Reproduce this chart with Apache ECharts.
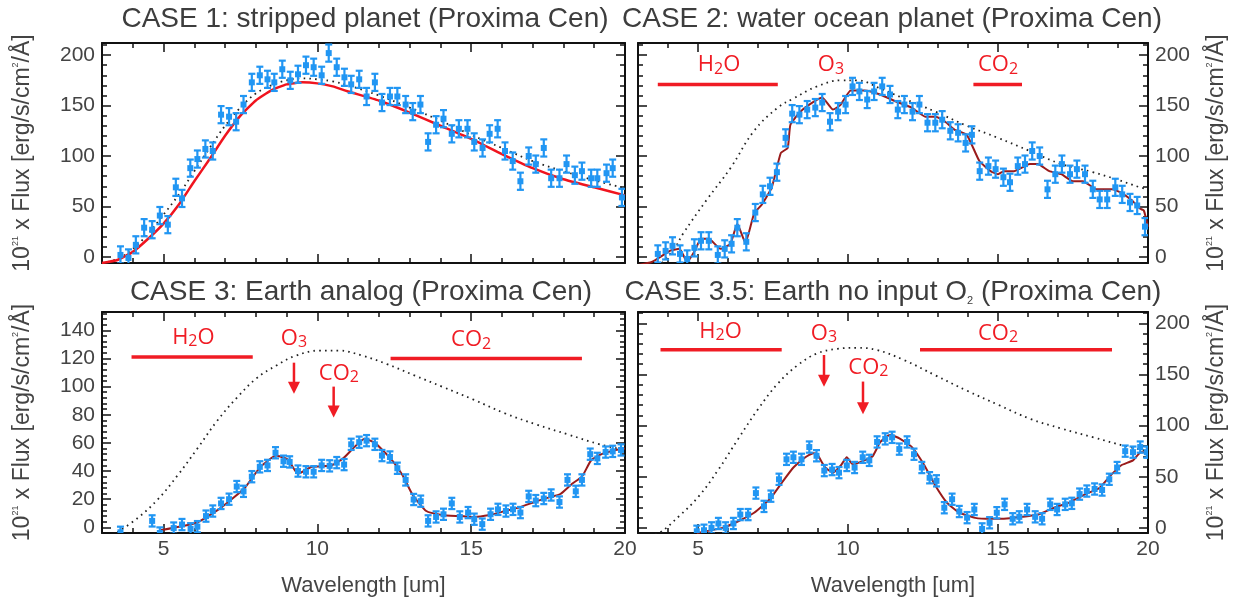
<!DOCTYPE html>
<html>
<head>
<meta charset="utf-8">
<script src="https://cdn.jsdelivr.net/npm/echarts@6/dist/echarts.min.js"></script>
<style>
html,body{margin:0;padding:0;background:#fff;}
#main{width:1238px;height:607px;}
</style>
</head>
<body>
<div id="main"></div>
<script>
// ---- data (wavelength um, 1e21 x flux) ----
// CASE 1
var w1 = [3.6,3.86,4.1,4.37,4.63,4.88,5.14,5.4,5.6,5.87,6.1,6.36,6.6,6.87,7.13,7.36,7.6,7.87,8.13,8.38,8.6,8.86,9.12,9.37,9.63,9.88,10.14,10.37,10.63,10.88,11.1,11.36,11.6,11.87,12.1,12.36,12.6,12.87,13.1,13.35,13.6,13.86,14.1,14.37,14.6,14.88,15.1,15.37,15.6,15.86,16.1,16.35,16.6,16.87,17.1,17.36,17.6,17.87,18.1,18.37,18.6,18.9,19.1,19.4,19.6,19.9];
var f1 = [2,-1,12,29,27,41,32,69,58,88,97,107,105,141,139,134,151,173,180,176,173,186,175,181,190,188,180,202,188,178,171,176,159,173,153,159,159,151,144,151,114,131,137,122,127,127,114,108,122,127,105,95,75,100,92,108,78,78,92,81,85,78,78,83,88,59];
var m1x = [3,3.5,4,4.5,5,5.5,6,6.5,7,7.5,8,8.5,9,9.5,10,10.5,11,12,13,14,15,16,17,18,19,20];
var m1y = [-6,-3,5,18,33,52,75,97,120,140,155,165,171,173,172,169,164,155,143,130,117,102,88,77,69,61];
var b1x = [3,3.5,4,4.5,5,5.5,6,6.5,7,7.5,8,8.5,9,9.5,10,10.5,11,12,13,14,15,16,17,18,19,20];
var b1y = [-6,-2,8,23,42,62,85,108,130,148,162,170,175,177,176,174,170,160,148,135,121,108,95,85,76,68];

// CASE 2
var w2 = [3.66,3.92,4.15,4.4,4.64,4.88,5.1,5.36,5.66,5.89,6.12,6.31,6.61,6.91,7.16,7.4,7.63,7.92,8.14,8.38,8.64,8.91,9.14,9.4,9.67,9.92,10.15,10.38,10.64,10.87,11.14,11.4,11.66,11.88,12.15,12.38,12.65,12.91,13.14,13.41,13.67,13.92,14.13,14.39,14.68,14.92,15.18,15.4,15.66,15.9,16.14,16.39,16.65,16.91,17.13,17.4,17.63,17.9,18.16,18.39,18.64,18.91,19.14,19.4,19.64,19.9];
var f2 = [3,6,11,3,-2,9,16,16,2,8,13,29,15,44,62,70,84,118,142,141,146,148,153,134,144,151,169,164,156,164,169,161,146,151,144,151,133,133,136,125,123,113,121,85,90,87,79,74,90,92,105,100,67,82,92,82,87,82,67,57,57,69,62,54,51,30];
var m2x = [3,3.46,3.85,4.1,4.38,4.64,4.9,5.1,5.36,5.75,6.08,6.31,6.58,6.87,7.13,7.46,7.76,7.99,8.08,8.38,8.71,9.14,9.5,9.76,10.09,10.55,11.07,11.6,12.12,12.58,12.91,13.24,13.56,13.96,14.38,14.75,15.0,15.2,15.53,16.06,16.32,16.71,17.11,17.5,17.83,18.29,18.81,19.08,19.47,19.73,19.86,20];
var m2y = [-8,-5,2,6.5,8,-5,6.5,18,18,8,13,33,14,43,52,69,103,108,131,143,151,158,146,151,165,165,161,154,148,139,139,134,126,121,95,85,82,85,85,92,92,85,82,75,75,67,67,64,56,48,46,30];
var b2x = [3.8,4.25,4.5,5.3,6.08,6.87,7.66,8.18,8.97,9.76,10.3,11.07,11.86,12.91,13.96,15.0,16.06,17.11,18.16,18.94,19.73,20];
var b2y = [-6,10,23,57,88,125,148,157,169,175,175,167,157,144,130,118,105,92,84,77,69,67];

// CASE 3
var w3 = [3.6,4.63,4.88,5.33,5.6,5.88,6.1,6.38,6.6,6.87,7.13,7.38,7.6,7.87,8.13,8.38,8.64,8.9,9.1,9.37,9.63,9.88,10.14,10.4,10.63,10.87,11.1,11.36,11.6,11.87,12.1,12.36,12.6,12.87,13.13,13.36,13.6,13.86,14.1,14.37,14.63,14.9,15.1,15.36,15.63,15.87,16.13,16.36,16.6,16.87,17.1,17.36,17.6,17.87,18.13,18.4,18.6,18.87,19.1,19.37,19.6,19.87];
var f3 = [-3.5,4.6,-4,-0.5,2,-1,0.5,8,11.6,17,20,29,25.6,36,43,44,53,47,46.5,40,39.5,39.5,44,43.7,46,44.6,59,60.5,61.6,59,51,50,42,33.7,19.8,18.6,4.6,7.4,9.3,17,7.4,10.5,5.8,2.3,9.3,12.8,11.6,12.8,10.5,22,19,20.5,23,18,33.7,25.6,33.7,52,49,53.5,54,55];
var m3x = [4.9,6.1,6.87,7.64,8.15,8.67,9.05,9.37,9.82,10.46,10.84,11.2,11.53,11.87,12.38,12.77,13.1,13.54,14.05,14.56,15.08,15.6,16.1,16.6,17.13,17.64,17.9,18.28,18.6,18.9,19.24,19.7,20];
var m3y = [-2,3.5,14,28,43,51,48,38,43,44,49,57,63,60,49,37,23,11.6,8.8,8,7.4,8.8,11.6,14.4,18.6,22,23.7,31,36,47.7,52,55,56];
var b3x = [3.5,4.18,4.82,5.46,6.1,6.74,7.38,8.03,8.67,9.3,10.08,10.7,11.46,12.26,13.15,14.05,15.08,16.1,17.13,18.15,19.18,20];
var b3y = [-3.5,7,20,37,56,75.6,92,106,115,122,125.6,125.6,122,116,108,100,90.7,81,73,66,59,55];

// CASE 3.5
var w4 = [4.96,5.2,5.45,5.68,5.92,6.18,6.41,6.67,6.93,7.2,7.43,7.7,7.95,8.18,8.45,8.71,8.95,9.21,9.47,9.7,9.96,10.22,10.49,10.71,10.97,11.24,11.47,11.71,11.97,12.2,12.46,12.72,12.95,13.21,13.47,13.71,13.97,14.21,14.47,14.72,14.96,15.22,15.49,15.71,15.97,16.24,16.47,16.74,16.97,17.24,17.46,17.72,17.96,18.22,18.47,18.71,18.97,19.24,19.5,19.74,19.96];
var f4 = [-3.3,-2.3,0,4.3,0,4.3,13,13,34,21,31,47.5,67,69,67,79,70.5,56,57,54,61,59,69,66,84,87,88.5,77,84,72,59,49,46,19.7,28,16,10,18,-1,5,14.8,23,8.9,10.8,18,10.8,8.9,23,18,23,24,33,36,38,37,47.5,59,75,74,79,74];
var m4x = [4.96,5.82,6.34,6.87,7.39,7.79,8.18,8.58,8.84,8.97,9.24,9.5,9.76,9.96,10.16,10.55,10.82,11.08,11.41,11.74,12.13,12.53,12.92,13.3,13.71,14.24,14.76,15.29,15.82,16.34,16.87,17.39,17.92,18.38,18.78,19.1,19.5,19.76,20];
var m4y = [-5,0,6.5,14.8,28,44,59,69,73,72,59,54,61,69,62,66,70,84,91,87,79,62,41,24.6,14.8,9.8,8.9,9.2,10.8,13,19.7,25,33,39,52,61,66,74,74];
var b4x = [3.38,3.71,4.37,5.03,5.68,6.34,7.0,7.66,8.32,8.97,9.63,10.29,10.95,11.87,12.92,13.97,15.03,16.08,17.13,18.18,19.24,20];
var b4y = [-7.5,-5,11.5,31,57,87,116,141,159,170.5,175,176,174,164,149,134,120,106.5,97,88.5,80,75];

// error bar half sizes
var err = [8.5, 8.5, 4, 5.5];

// band labels: [x, y, text] and bars [x1, x2, y], arrows [x, yFrom, yTo]
var tags2 = [[5.7, 190, 'H{s|2}O'], [9.43, 190, 'O{s|3}'], [15.0, 190, 'CO{s|2}']];
var bars2 = [[3.66, 7.66, 171], [14.18, 15.8, 171]];
var tags3 = [[5.97, 135, 'H{s|2}O'], [9.24, 134, 'O{s|3}'], [10.7, 109, 'CO{s|2}'], [15.0, 133, 'CO{s|2}']];
var bars3 = [[3.96, 7.9, 121], [12.38, 18.6, 120]];
var arrows3 = [[9.24, 117, 95], [10.53, 100, 78]];
var tags4 = [[5.75, 192, 'H{s|2}O'], [9.2, 190, 'O{s|3}'], [10.68, 157, 'CO{s|2}'], [15.0, 190, 'CO{s|2}']];
var bars4 = [[3.75, 7.79, 174], [12.4, 18.8, 174]];
var arrows4 = [[9.2, 169, 138], [10.5, 143, 111]];

var titles = ['CASE 1: stripped planet (Proxima Cen)', 'CASE 2: water ocean planet (Proxima Cen)',
              'CASE 3: Earth analog (Proxima Cen)', 'CASE 3.5: Earth no input O{s|2} (Proxima Cen)'];
var yRange = [[-6, 212], [-6, 212], [-4, 153], [-5, 211]];
var xMajor = [5, 10, 15, 20];

// ---- styles ----
var BLUE = '#2196f3';
var RED = '#f0141e';
var DARKRED = '#9a1b1b';
var NOTE = '#f01c24';
var AX = '#111';
var TXT = '#444';
var FONT = 'Liberation Sans';

function steps(a, b, s) {
	var r = [];
	for (var v = a; v <= b + 1e-9; v += s) r.push(Math.round(v * 100) / 100);
	return r;
}
function pairs(xs, ys) {
	return xs.map(function (x, i) { return [x, ys[i]]; });
}

var yMajor = [steps(0, 200, 50), steps(0, 200, 50), steps(0, 140, 20), steps(0, 200, 50)];
var yMinor = [steps(0, 210, 10), steps(0, 210, 10), steps(0, 152, 4), steps(0, 210, 10)];
var xMinor = steps(3, 20, 1);

var grid = [
	{left: 102, top: 43, width: 523, height: 220},
	{left: 638, top: 43, width: 510, height: 220},
	{left: 102, top: 312, width: 523, height: 221},
	{left: 638, top: 312, width: 510, height: 221}
];
grid.forEach(function (g) { g.outerBoundsMode = 'none'; g.containLabel = false; });

var yName = '10{p|21} x Flux [erg/s/cm{p|2}/Å]';
var nameStyle = {color: TXT, fontSize: 23, fontFamily: FONT,
	rich: {p: {fontSize: 9, color: TXT, fontFamily: FONT, verticalAlign: 'top', lineHeight: 10}}};

var xAxis = [], yAxis = [];
for (var g = 0; g < 4; g++) {
	var bottomRow = g >= 2;
	var sides = ['bottom', 'bottom', 'top', 'top'];
	for (var k = 0; k < 4; k++) {
		var major = (k % 2 == 0);
		var ax = {
			gridIndex: g, type: 'value', min: 3, max: 20, position: sides[k],
			splitLine: {show: false},
			axisLine: {show: major, onZero: false, lineStyle: {color: AX, width: 2}},
			axisTick: {inside: true, length: major ? 9 : 5, customValues: major ? xMajor : xMinor,
				lineStyle: {color: AX, width: 1.5}},
			axisLabel: {show: false}
		};
		if (k == 0 && bottomRow) {
			ax.axisLabel = {show: true, customValues: xMajor, margin: 6, color: TXT, fontSize: 21, fontFamily: FONT};
			ax.name = 'Wavelength [um]';
			ax.nameLocation = 'middle';
			ax.nameGap = 42;
			ax.nameTextStyle = {color: TXT, fontSize: 22, fontFamily: FONT};
		}
		xAxis.push(ax);
	}
	var ysides = ['left', 'left', 'right', 'right'];
	var labelSide = (g % 2 == 0) ? 0 : 2;
	for (var k = 0; k < 4; k++) {
		var major = (k % 2 == 0);
		var ay = {
			gridIndex: g, type: 'value', min: yRange[g][0], max: yRange[g][1], position: ysides[k],
			splitLine: {show: false},
			axisLine: {show: major, onZero: false, lineStyle: {color: AX, width: 2}},
			axisTick: {inside: true, length: major ? 9 : 5, customValues: major ? yMajor[g] : yMinor[g],
				lineStyle: {color: AX, width: 1.5}},
			axisLabel: {show: false}
		};
		if (k == labelSide) {
			ay.axisLabel = {show: true, customValues: yMajor[g], margin: 7, color: TXT, fontSize: 21, fontFamily: FONT};
			ay.name = yName;
			ay.nameLocation = 'middle';
			ay.nameRotate = 90;
			ay.nameGap = (k == 0) ? 68 : 57;
			ay.nameTextStyle = nameStyle;
		}
		yAxis.push(ay);
	}
}

// error bar points
function errorSeries(g, xs, ys, e) {
	return {
		type: 'custom', xAxisIndex: g * 4, yAxisIndex: g * 4, clip: true, silent: true, z: 5,
		data: xs.map(function (x, i) { return [x, ys[i], e]; }),
		renderItem: function (params, api) {
			var x = api.value(0), y = api.value(1), d = api.value(2);
			var p = api.coord([x, y]);
			var hi = api.coord([x, y + d]);
			var lo = api.coord([x, y - d]);
			var st = {stroke: BLUE, lineWidth: 2.2};
			return {type: 'group', children: [
				{type: 'line', shape: {x1: p[0], y1: hi[1], x2: p[0], y2: lo[1]}, style: st},
				{type: 'line', shape: {x1: p[0] - 3.5, y1: hi[1], x2: p[0] + 3.5, y2: hi[1]}, style: st},
				{type: 'line', shape: {x1: p[0] - 3.5, y1: lo[1], x2: p[0] + 3.5, y2: lo[1]}, style: st},
				{type: 'rect', shape: {x: p[0] - 3, y: p[1] - 3, width: 6, height: 6}, style: {fill: BLUE}}
			]};
		}
	};
}
function lineSeries(g, xs, ys, color, width, dotted) {
	return {
		type: 'line', xAxisIndex: g * 4, yAxisIndex: g * 4, data: pairs(xs, ys),
		symbol: 'none', smooth: dotted ? 0.4 : 0.15, silent: true, z: dotted ? 3 : 4,
		lineStyle: {color: color, width: width, type: dotted ? [1.6, 4.2] : 'solid'}
	};
}
function tagSeries(g, list) {
	return {
		type: 'custom', xAxisIndex: g * 4, yAxisIndex: g * 4, silent: true, z: 6,
		data: list.map(function (t) { return [t[0], t[1]]; }),
		renderItem: function (params, api) {
			var t = list[params.dataIndex];
			var p = api.coord([t[0], t[1]]);
			return {type: 'text', x: p[0], y: p[1], style: {
				text: t[2], align: 'center', verticalAlign: 'middle',
				fill: NOTE, fontSize: 22, fontFamily: 'Open Sans', lineHeight: 24,
				rich: {s: {fill: NOTE, fontSize: 16, fontFamily: 'Open Sans', verticalAlign: 'bottom', lineHeight: 6}}
			}};
		}
	};
}
function barSeries(g, list) {
	return {
		type: 'custom', xAxisIndex: g * 4, yAxisIndex: g * 4, silent: true, z: 6,
		data: list,
		renderItem: function (params, api) {
			var a = api.coord([api.value(0), api.value(2)]);
			var b = api.coord([api.value(1), api.value(2)]);
			return {type: 'line', shape: {x1: a[0], y1: a[1], x2: b[0], y2: b[1]},
				style: {stroke: NOTE, lineWidth: 3.5}};
		}
	};
}
function arrowSeries(g, list) {
	return {
		type: 'custom', xAxisIndex: g * 4, yAxisIndex: g * 4, silent: true, z: 6,
		data: list,
		renderItem: function (params, api) {
			var a = api.coord([api.value(0), api.value(1)]);
			var b = api.coord([api.value(0), api.value(2)]);
			return {type: 'group', children: [
				{type: 'line', shape: {x1: a[0], y1: a[1], x2: b[0], y2: b[1] - 8}, style: {stroke: NOTE, lineWidth: 2.5}},
				{type: 'polygon', shape: {points: [[b[0] - 6, b[1] - 12], [b[0] + 6, b[1] - 12], [b[0], b[1]]]}, style: {fill: NOTE}}
			]};
		}
	};
}

var series = [
	lineSeries(0, b1x, b1y, '#222', 1.8, true),
	lineSeries(0, m1x, m1y, RED, 2.5, false),
	errorSeries(0, w1, f1, err[0]),

	lineSeries(1, b2x, b2y, '#222', 1.8, true),
	lineSeries(1, m2x, m2y, DARKRED, 2, false),
	errorSeries(1, w2, f2, err[1]),
	barSeries(1, bars2), tagSeries(1, tags2),

	lineSeries(2, b3x, b3y, '#222', 1.8, true),
	lineSeries(2, m3x, m3y, DARKRED, 2, false),
	errorSeries(2, w3, f3, err[2]),
	barSeries(2, bars3), tagSeries(2, tags3), arrowSeries(2, arrows3),

	lineSeries(3, b4x, b4y, '#222', 1.8, true),
	lineSeries(3, m4x, m4y, DARKRED, 2, false),
	errorSeries(3, w4, f4, err[3]),
	barSeries(3, bars4), tagSeries(3, tags4), arrowSeries(3, arrows4)
];

var titleStyle = {fontSize: 28, fontWeight: 'normal', color: '#3d3d3d', fontFamily: FONT,
	rich: {s: {fontSize: 11, color: '#3d3d3d', fontFamily: FONT, verticalAlign: 'bottom', lineHeight: 10}}};
var title = [
	{text: titles[0], left: 360, top: 0, textAlign: 'center', textStyle: titleStyle},
	{text: titles[1], left: 887, top: 0, textAlign: 'center', textStyle: titleStyle},
	{text: titles[2], left: 356, top: 273, textAlign: 'center', textStyle: titleStyle},
	{text: titles[3], left: 888, top: 273, textAlign: 'center', textStyle: titleStyle}
];

var chart = echarts.init(document.getElementById('main'));
chart.setOption({
	animation: false,
	backgroundColor: '#fff',
	title: title,
	grid: grid,
	xAxis: xAxis,
	yAxis: yAxis,
	series: series
});
</script>
</body>
</html>
